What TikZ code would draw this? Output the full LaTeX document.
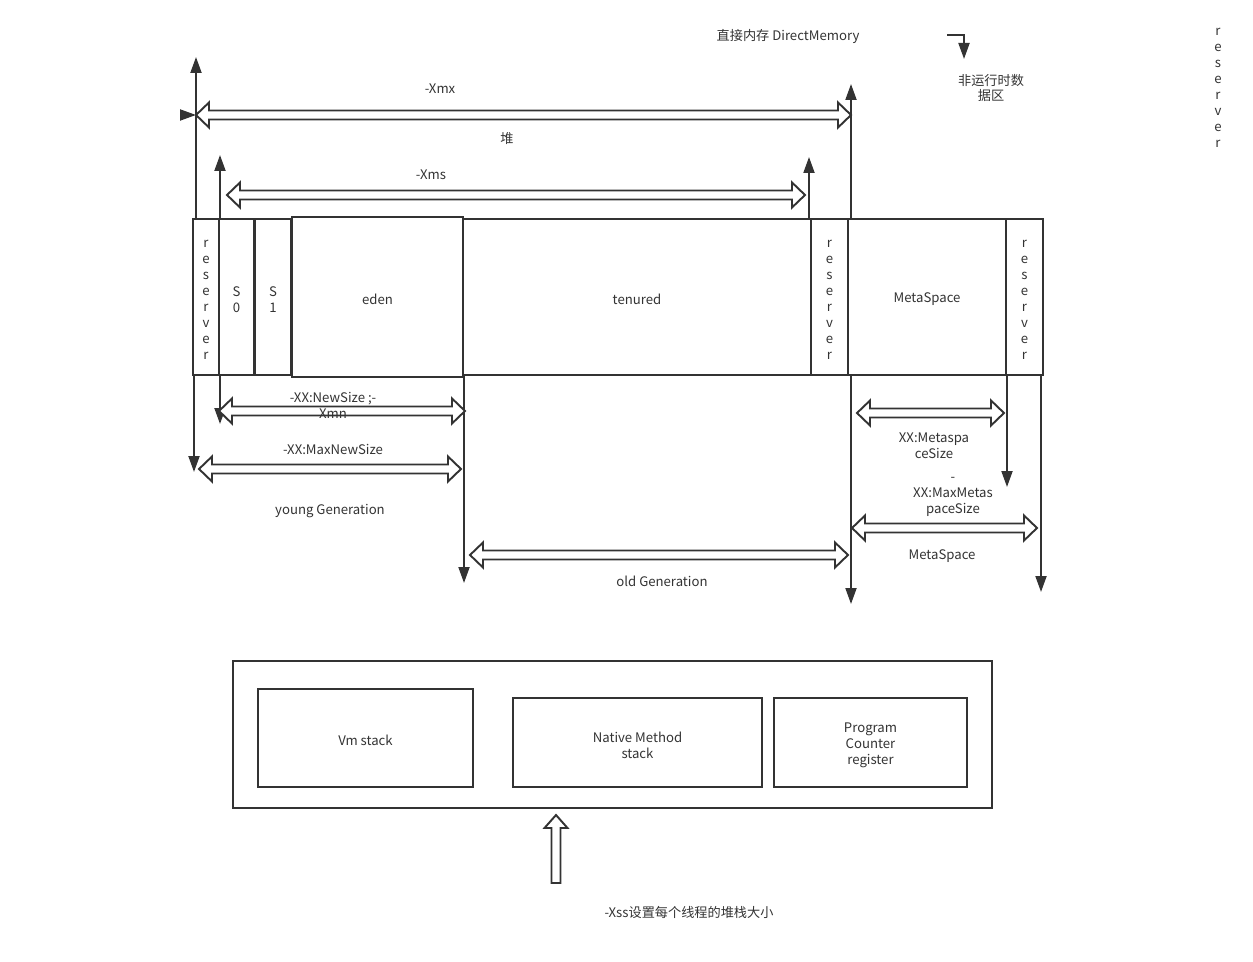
\documentclass[tikz,border=0pt]{standalone}
\usepackage{fontspec}
\setmainfont{Noto Sans CJK SC}
\usetikzlibrary{arrows.meta,calc,fit}
\definecolor{ink}{HTML}{333333}

\begin{document}
\begin{tikzpicture}[
    x=0.02cm, y=-0.02cm,
    every node/.style={text=ink, font=\fontsize{7.5}{9.1}\selectfont},
    part/.style={draw=ink, line width=1.1pt, inner sep=0pt},
    inside/.style={label={[align=center, yshift=-0.05cm]center:#1}},
    vline/.style={draw=ink, line width=1.1pt, -{Triangle[length=0.32cm,width=0.22cm]}},
    flexboth/.style={draw=ink, line width=1.1pt, fill=white, to path={let \p1=(\tikztostart), \p2=(\tikztotarget) in
      (\x1,\y1) -- (\x1+0.26cm,\y1+0.25cm) -- (\x1+0.26cm,\y1+0.09cm) -- (\x2-0.26cm,\y1+0.09cm)
      -- (\x2-0.26cm,\y1+0.25cm) -- (\x2,\y1) -- (\x2-0.26cm,\y1-0.25cm) -- (\x2-0.26cm,\y1-0.09cm)
      -- (\x1+0.26cm,\y1-0.09cm) -- (\x1+0.26cm,\y1-0.25cm) -- cycle}},
    flexup/.style={draw=ink, line width=1.1pt, fill=white, to path={let \p1=(\tikztostart), \p2=(\tikztotarget) in
      (\x1-0.09cm,\y1) -- (\x1-0.09cm,\y2-0.26cm) -- (\x1-0.23cm,\y2-0.26cm) -- (\x2,\y2)
      -- (\x1+0.23cm,\y2-0.26cm) -- (\x1+0.09cm,\y2-0.26cm) -- (\x1+0.09cm,\y1) -- cycle}},
    txt/.style={align=center, inner sep=1pt}
]
\useasboundingbox (0,0) rectangle (1253,962);

% heap strip
\node[part, fit={(193,219) (219,375)}, inside={r\\e\\s\\e\\r\\v\\e\\r}] (res1) {};
\node[part, fit={(219,219) (254,375)}, inside={S\\0}] (s0) {};
\node[part, fit={(255,219) (291,375)}, inside={S\\1}] (s1) {};
\node[part, fit={(292,217) (463,377)}, inside={eden}] (eden) {};
\node[part, fit={(463,219) (811,375)}, inside={tenured}] (tenured) {};
\node[part, fit={(811,219) (848,375)}, inside={r\\e\\s\\e\\r\\v\\e\\r}] (res2) {};
\node[part, fit={(848,219) (1006,375)}, inside={MetaSpace}] (meta) {};
\node[part, fit={(1006,219) (1043,375)}, inside={r\\e\\s\\e\\r\\v\\e\\r}] (res3) {};

% marker lines
\coordinate (up1a) at (196,219);  \coordinate (up1b) at (196,57);
\coordinate (up2a) at (220,219);  \coordinate (up2b) at (220,155);
\coordinate (up3a) at (809,219);  \coordinate (up3b) at (809,157);
\coordinate (up4a) at (851,219);  \coordinate (up4b) at (851,84);
\coordinate (dn1a) at (194,375);  \coordinate (dn1b) at (194,472);
\coordinate (dn2a) at (220,375);  \coordinate (dn2b) at (220,424);
\coordinate (dn3a) at (464,375);  \coordinate (dn3b) at (464,583);
\coordinate (dn4a) at (851,375);  \coordinate (dn4b) at (851,604);
\coordinate (dn5a) at (1007,375); \coordinate (dn5b) at (1007,487);
\coordinate (dn6a) at (1041,375); \coordinate (dn6b) at (1041,592);
\draw[vline] (up1a) -- (up1b);
\draw[vline] (up2a) -- (up2b);
\draw[vline] (up3a) -- (up3b);
\draw[vline] (up4a) -- (up4b);
\draw[vline] (dn1a) -- (dn1b);
\draw[vline] (dn2a) -- (dn2b);
\draw[vline] (dn3a) -- (dn3b);
\draw[vline] (dn4a) -- (dn4b);
\draw[vline] (dn5a) -- (dn5b);
\draw[vline] (dn6a) -- (dn6b);

% size arrows
\coordinate (xmxL) at (196,115);  \coordinate (xmxR) at (851,115);
\coordinate (xmsL) at (227,195);  \coordinate (xmsR) at (805,195);
\coordinate (newL) at (219,411);  \coordinate (newR) at (465,411);
\coordinate (mnewL) at (199,469); \coordinate (mnewR) at (461,469);
\coordinate (oldL) at (470,555);  \coordinate (oldR) at (848,555);
\coordinate (msL) at (857,413);   \coordinate (msR) at (1004,413);
\coordinate (mmsL) at (852,528);  \coordinate (mmsR) at (1037,528);
\coordinate (mark) at (180,115);
\draw[flexboth] (xmxL) to (xmxR);
\draw[flexboth] (xmsL) to (xmsR);
\draw[flexboth] (newL) to (newR);
\draw[flexboth] (mnewL) to (mnewR);
\draw[flexboth] (oldL) to (oldR);
\draw[flexboth] (msL) to (msR);
\draw[flexboth] (mmsL) to (mmsR);
\draw[vline] (mark) -- (xmxL);

% labels
\node[txt] (lxmx) at (440,89) {-Xmx};
\node[txt] (lheap) at (507,139) {堆};
\node[txt] (lxms) at (431,175) {-Xms};
\node[txt] (lnew) at (333,405) {-XX:NewSize ;-\\Xmn};
\node[txt] (lmnew) at (333,449) {-XX:MaxNewSize};
\node[txt] (lyoung) at (330,511) {young Generation};
\node[txt] (lold) at (662,581) {old Generation};
\node[txt] (lms) at (934,446) {XX:Metaspa\\ceSize};
\node[txt] (lmms) at (953,497) {-\\XX:MaxMetas\\paceSize};
\node[txt] (lmeta) at (942,556) {MetaSpace};

% direct memory
\node[txt] (ldirect) at (788,37) {直接内存 DirectMemory};
\coordinate (dmA) at (947,35); \coordinate (dmB) at (964,59);
\draw[vline] (dmA) -| (dmB);
\node[txt] (lnonrt) at (991,88) {非运行时数\\据区};
\node[txt] (lres) at (1218,88) {r\\e\\s\\e\\r\\v\\e\\r};

% thread area
\node[part, fit={(233,661) (992,808)}] (thread) {};
\node[part, fit={(258,689) (473,787)}, inside={Vm stack}] (vmstack) {};
\node[part, fit={(513,698) (762,787)}, inside={Native Method\\stack}] (native) {};
\node[part, fit={(774,698) (967,787)}, inside={Program\\Counter\\register}] (pc) {};
\coordinate (xssB) at (556,883); \coordinate (xssT) at (556,815);
\draw[flexup] (xssB) to (xssT);
\node[txt] (lxss) at (689,912) {-Xss设置每个线程的堆栈大小};
\end{tikzpicture}
\end{document}
